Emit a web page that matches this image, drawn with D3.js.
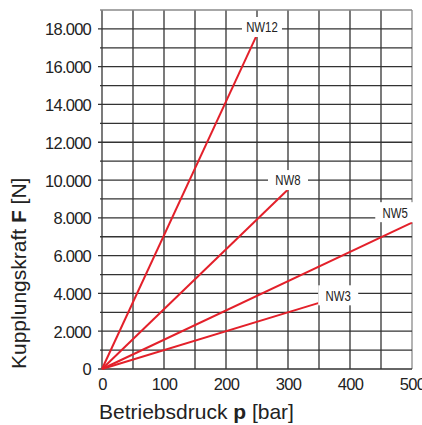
<!DOCTYPE html>
<html>
<head>
<meta charset="utf-8">
<script src="https://cdn.jsdelivr.net/npm/d3@7"></script>
<style>
  body { margin: 0; background: #fff; }
  text { font-family: "Liberation Sans", Arial, sans-serif; fill: #222; }
</style>
</head>
<body>
<script>
// data
var sizes = ["NW3", "NW5", "NW8", "NW12"];
var pressureStart = [0, 0, 0, 0];       // bar
var forceStart = [0, 0, 0, 0];          // N
var pressureEnd = [350, 500, 300, 250]; // bar
var forceEnd = [3500, 7750, 9500, 17700]; // N
// label box centres in data units
var labelP = [381, 473, 300, 258];
var labelF = [3900, 8300, 10000, 18100];

var xTicks = [0, 100, 200, 300, 400, 500];
var yTicks = [0, 2000, 4000, 6000, 8000, 10000, 12000, 14000, 16000, 18000];

var margin = {top: 10, right: 10, bottom: 56, left: 102},
    w = 422 - margin.left - margin.right,
    h = 425 - margin.top - margin.bottom;

var svg = d3.select("body")
            .append("svg")
            .attr("width", 422)
            .attr("height", 425)
            .append("g")
            .attr("transform", "translate(" + margin.left + "," + margin.top + ")");

var x = d3.scaleLinear().domain([0, 500]).range([0, w]);
var y = d3.scaleLinear().domain([0, 19000]).range([h, 0]);

var de = d3.formatLocale({decimal: ",", thousands: ".", grouping: [3], currency: ["", ""]});
var fmt = de.format(",");

// grid
svg.append("g")
    .selectAll("line.v")
    .data(d3.range(0, 501, 50))
    .enter().append("line")
    .attr("x1", function(d) { return x(d); })
    .attr("x2", function(d) { return x(d); })
    .attr("y1", y(0))
    .attr("y2", y(19000))
    .attr("stroke", function(d) { return d == 500 ? "#8a8a8a" : "#333"; })
    .attr("stroke-width", 1.3);

svg.append("g")
    .selectAll("line.h")
    .data(d3.range(0, 19001, 1000))
    .enter().append("line")
    .attr("x1", function(d) { return d % 2000 == 0 ? -4 : -2; })
    .attr("x2", x(500))
    .attr("y1", function(d) { return y(d); })
    .attr("y2", function(d) { return y(d); })
    .attr("stroke", function(d) { return d == 19000 ? "#8a8a8a" : "#333"; })
    .attr("stroke-width", 1.3);

// axes (labels only, grid drawn above)
var yAxis = svg.append("g")
    .call(d3.axisLeft(y).tickValues(yTicks).tickSize(0).tickPadding(11).tickFormat(fmt));
yAxis.select(".domain").remove();
yAxis.selectAll("text")
    .attr("font-size", 16.5)
    .attr("letter-spacing", -0.75)
    .attr("font-family", "Liberation Sans, Arial, sans-serif")
    .attr("fill", "#222")
    .attr("dy", "0.36em");

var xAxis = svg.append("g")
    .attr("transform", "translate(0," + h + ")")
    .call(d3.axisBottom(x).tickValues(xTicks).tickSize(0).tickPadding(9));
xAxis.select(".domain").remove();
xAxis.selectAll("text")
    .attr("font-size", 16.5)
    .attr("letter-spacing", -0.75)
    .attr("font-family", "Liberation Sans, Arial, sans-serif")
    .attr("fill", "#222");

// curves
svg.append("g")
    .selectAll("line.nw")
    .data(sizes)
    .enter().append("line")
    .attr("x1", function(d, i) { return x(pressureStart[i]); })
    .attr("y1", function(d, i) { return y(forceStart[i]); })
    .attr("x2", function(d, i) { return x(pressureEnd[i]); })
    .attr("y2", function(d, i) { return y(forceEnd[i]); })
    .attr("stroke", "#e3202a")
    .attr("stroke-width", 2);

// labels
var lab = svg.append("g")
    .selectAll("g")
    .data(sizes)
    .enter().append("g")
    .attr("transform", function(d, i) { return "translate(" + x(labelP[i]) + "," + y(labelF[i]) + ")"; });

lab.append("rect")
    .attr("x", -20)
    .attr("y", -10)
    .attr("width", 40)
    .attr("height", 20)
    .attr("fill", "#fff");

lab.append("text")
    .attr("text-anchor", "middle")
    .attr("dy", "0.36em")
    .attr("font-size", 15)
    .attr("transform", "scale(0.76,1)")
    .text(function(d) { return d; });

// axis titles
var xt = svg.append("text")
    .attr("x", -3)
    .attr("y", h + 50)
    .attr("font-size", 21);
xt.append("tspan").text("Betriebsdruck ");
xt.append("tspan").attr("font-weight", "bold").text("p");
xt.append("tspan").text(" [bar]");

var yt = svg.append("text")
    .attr("transform", "translate(" + (-76) + "," + (h) + ") rotate(-90)")
    .attr("font-size", 21);
yt.append("tspan").text("Kupplungskraft ");
yt.append("tspan").attr("font-weight", "bold").text("F");
yt.append("tspan").text(" [N]");
</script>
</body>
</html>
